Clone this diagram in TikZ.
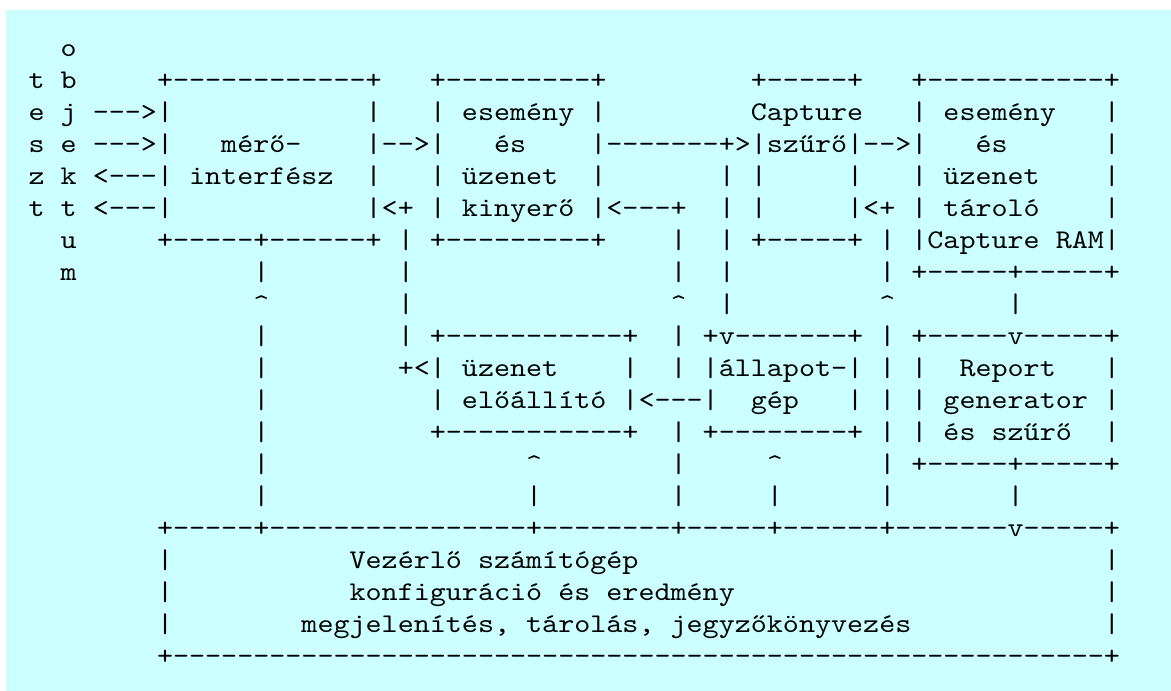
\documentclass[tikz,border=0pt]{standalone}
\usepackage{fontspec}
\newfontfamily\asciifont{lmmono10-regular.otf}[FakeStretch=1.1323]
\definecolor{bgcyan}{RGB}{204,255,255}
\tikzset{
  txt/.style={anchor=base west, inner sep=0pt, outer sep=0pt,
    font=\asciifont\fontsize{27}{32}\selectfont\frenchspacing, text=black},
}
% one run of characters, placed on the character grid: row, column, text
\newcommand\Seg[3]{\node[txt] (r#1c#2) at ({28.6+16.05*#2},{56.3+32*(#1-1)}) {#3};}
\begin{document}
\begin{tikzpicture}[x=1pt,y=-1pt]
\useasboundingbox (0,0) rectangle (1171,691);
\fill[white] (0,0) rectangle (1171,691);
\fill[bgcyan] (6,9.5) rectangle (1171,690.5);
% row 1
\Seg{1}{2}{o}
% row 2
\Seg{2}{0}{t b}
\Seg{2}{8}{+------------+}
\Seg{2}{25}{+---------+}
\Seg{2}{45}{+-----+}
\Seg{2}{55}{+-----------+}
% row 3
\Seg{3}{0}{e j --->|}
\Seg{3}{21}{|}
\Seg{3}{25}{|}
\Seg{3}{27}{esemény}
\Seg{3}{35}{|}
\Seg{3}{45}{Capture}
\Seg{3}{55}{|}
\Seg{3}{57}{esemény}
\Seg{3}{67}{|}
% row 4
\Seg{4}{0}{s e --->|}
\Seg{4}{12}{mérő-}
\Seg{4}{21}{|-->|}
\Seg{4}{29}{és}
\Seg{4}{35}{|-------+>|szűrő|-->|}
\Seg{4}{59}{és}
\Seg{4}{67}{|}
% row 5
\Seg{5}{0}{z k <---|}
\Seg{5}{10}{interfész}
\Seg{5}{21}{|}
\Seg{5}{25}{|}
\Seg{5}{27}{üzenet}
\Seg{5}{35}{|}
\Seg{5}{43}{| |}
\Seg{5}{51}{|}
\Seg{5}{55}{|}
\Seg{5}{57}{üzenet}
\Seg{5}{67}{|}
% row 6
\Seg{6}{0}{t t <---|}
\Seg{6}{21}{|<+ |}
\Seg{6}{27}{kinyerő}
\Seg{6}{35}{|<---+}
\Seg{6}{43}{| |}
\Seg{6}{51}{|<+ |}
\Seg{6}{57}{tároló}
\Seg{6}{67}{|}
% row 7
\Seg{7}{2}{u}
\Seg{7}{8}{+-----+------+ | +---------+}
\Seg{7}{40}{|}
\Seg{7}{43}{| +-----+ | |Capture RAM|}
% row 8
\Seg{8}{2}{m}
\Seg{8}{14}{|}
\Seg{8}{23}{|}
\Seg{8}{40}{|}
\Seg{8}{43}{|}
\Seg{8}{53}{| +-----+-----+}
% row 9
\Seg{9}{14}{\string^}
\Seg{9}{23}{|}
\Seg{9}{40}{\string^}
\Seg{9}{43}{|}
\Seg{9}{53}{\string^}
\Seg{9}{61}{|}
% row 10
\Seg{10}{14}{|}
\Seg{10}{23}{| +-----------+}
\Seg{10}{40}{| +v-------+ | +-----v-----+}
% row 11
\Seg{11}{14}{|}
\Seg{11}{23}{+<|}
\Seg{11}{27}{üzenet}
\Seg{11}{37}{|}
\Seg{11}{40}{| |állapot-| | |}
\Seg{11}{58}{Report}
\Seg{11}{67}{|}
% row 12
\Seg{12}{14}{|}
\Seg{12}{25}{|}
\Seg{12}{27}{előállító}
\Seg{12}{37}{|<---|}
\Seg{12}{45}{gép}
\Seg{12}{51}{| | |}
\Seg{12}{57}{generator}
\Seg{12}{67}{|}
% row 13
\Seg{13}{14}{|}
\Seg{13}{25}{+-----------+}
\Seg{13}{40}{| +--------+ | | és szűrő}
\Seg{13}{67}{|}
% row 14
\Seg{14}{14}{|}
\Seg{14}{31}{\string^}
\Seg{14}{40}{|}
\Seg{14}{46}{\string^}
\Seg{14}{53}{| +-----+-----+}
% row 15
\Seg{15}{14}{|}
\Seg{15}{31}{|}
\Seg{15}{40}{|}
\Seg{15}{46}{|}
\Seg{15}{53}{|}
\Seg{15}{61}{|}
% row 16
\Seg{16}{8}{+-----+----------------+--------+-----+------+-------v-----+}
% rows 17-19
\Seg{17}{8}{|}
\Seg{17}{20}{Vezérlő számítógép}
\Seg{17}{67}{|}
\Seg{18}{8}{|}
\Seg{18}{20}{konfiguráció és eredmény}
\Seg{18}{67}{|}
\Seg{19}{8}{|}
\Seg{19}{17}{megjelenítés, tárolás, jegyzőkönyvezés}
\Seg{19}{67}{|}
% row 20
\Seg{20}{8}{+----------------------------------------------------------+}
\end{tikzpicture}
\end{document}
